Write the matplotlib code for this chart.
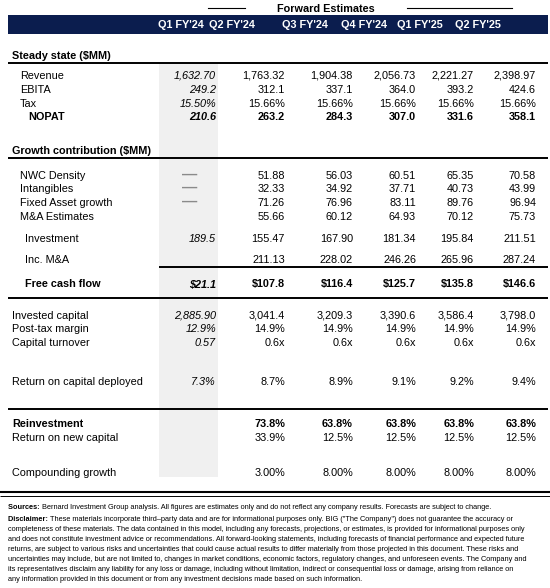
import matplotlib
matplotlib.use("Agg")
from matplotlib import pyplot as plt

plt.rcParams['font.family'] = ['Liberation Sans', 'DejaVu Sans']

# column headers
periods = ["Q1 FY'24", "Q2 FY'24", "Q3 FY'24", "Q4 FY'24", "Q1 FY'25", "Q2 FY'25"]

# steady state ($MM)
revenue = [1632.70, 1763.32, 1904.38, 2056.73, 2221.27, 2398.97]
ebita = [249.2, 312.1, 337.1, 364.0, 393.2, 424.6]
tax = [15.50, 15.66, 15.66, 15.66, 15.66, 15.66]
nopat = [210.6, 263.2, 284.3, 307.0, 331.6, 358.1]

# growth contribution ($MM)  (None = "—" or blank)
nwc_density = [None, 51.88, 56.03, 60.51, 65.35, 70.58]
intangibles = [None, 32.33, 34.92, 37.71, 40.73, 43.99]
fixed_asset = [None, 71.26, 76.96, 83.11, 89.76, 96.94]
mna_estimates = [None, 55.66, 60.12, 64.93, 70.12, 75.73]
investment = [189.5, 155.47, 167.90, 181.34, 195.84, 211.51]
inc_mna = [None, 211.13, 228.02, 246.26, 265.96, 287.24]
free_cash_flow = [21.1, 107.8, 116.4, 125.7, 135.8, 146.6]

# returns
invested_capital = [2885.90, 3041.4, 3209.3, 3390.6, 3586.4, 3798.0]
post_tax_margin = [12.9, 14.9, 14.9, 14.9, 14.9, 14.9]
capital_turnover = [0.57, 0.6, 0.6, 0.6, 0.6, 0.6]
rocd = [7.3, 8.7, 8.9, 9.1, 9.2, 9.4]
reinvestment = [None, 73.8, 63.8, 63.8, 63.8, 63.8]
return_new_capital = [None, 33.9, 12.5, 12.5, 12.5, 12.5]
compounding_growth = [None, 3.00, 8.00, 8.00, 8.00, 8.00]

NAVY = '#0b1d4e'
FS = 7.8

fig = plt.figure(figsize=(5.5, 5.88), dpi=100)
ax = fig.add_axes([0, 0, 1, 1])
ax.set_xlim(0, 550)
ax.set_ylim(588, 0)
ax.axis('off')

col_right = [216, 285, 353, 416, 474, 536]
head_center = [181, 232, 305, 364, 420, 478]

# shaded actuals column
ax.add_patch(plt.Rectangle((159, 63), 59, 414, color='#f0f0f0', lw=0, zorder=0))

# forward estimates bracket
ax.plot([208, 245], [8, 8], color='black', lw=0.8)
ax.plot([407, 512], [8, 8], color='black', lw=0.8)
ax.text(326, 8 + 3.8, 'Forward Estimates', ha='center', va='baseline',
        fontsize=FS, fontweight='bold')

# header bar
ax.add_patch(plt.Rectangle((8, 15), 540, 19, color=NAVY, lw=0, zorder=1))
for x, p in zip(head_center, periods):
    ax.text(x, 24.5 + 3.8, p, ha='center', va='baseline', fontsize=FS,
            fontweight='bold', color='white', zorder=2)


def hline(y, x0=8, x1=548, lw=1.4):
    ax.plot([x0, x1], [y, y], color='black', lw=lw, solid_capstyle='butt', zorder=3)


def label(y, s, x=20, bold=False):
    ax.text(x, y + 3.8, s, ha='left', va='baseline', fontsize=FS,
            fontweight='bold' if bold else 'normal')


def row(y, name, vals, fmt, fmt0=None, x=20, bold=False, dash=False):
    label(y, name, x, bold)
    for i, v in enumerate(vals):
        if v is None:
            if dash and i == 0:
                ax.text(189.5, y + 4.2, '\u2014', ha='center', va='baseline',
                        fontsize=11, fontweight='bold', color='#8a8a8a')
            continue
        f = fmt0 if (i == 0 and fmt0) else fmt
        ax.text(col_right[i], y + 3.8, f.format(v), ha='right', va='baseline',
                fontsize=FS, fontweight='bold' if bold else 'normal',
                fontstyle='italic' if i == 0 else 'normal')


# steady state
label(55, 'Steady state ($MM)', x=12, bold=True)
hline(63)
row(75, 'Revenue', revenue, '{:,.2f}')
row(89, 'EBITA', ebita, '{:,.1f}')
row(103, 'Tax', tax, '{:.2f}%')
row(116, 'NOPAT', nopat, '{:,.1f}', x=28, bold=True)

# growth contribution
label(150, 'Growth contribution ($MM)', x=12, bold=True)
hline(158)
row(175, 'NWC Density', nwc_density, '{:,.2f}', dash=True)
row(188, 'Intangibles', intangibles, '{:,.2f}', dash=True)
row(202, 'Fixed Asset growth', fixed_asset, '{:,.2f}', dash=True)
row(216, 'M&A Estimates', mna_estimates, '{:,.2f}')
row(238, 'Investment', investment, '{:,.2f}', fmt0='{:,.1f}', x=25)
row(259, 'Inc. M&A', inc_mna, '{:,.2f}', x=25)
hline(267, x0=159)
row(283, 'Free cash flow', free_cash_flow, '${:,.1f}', x=25, bold=True)
hline(298)

# returns
row(315, 'Invested capital', invested_capital, '{:,.1f}', fmt0='{:,.2f}', x=12)
row(328, 'Post-tax margin', post_tax_margin, '{:.1f}%', x=12)
row(342, 'Capital turnover', capital_turnover, '{:.1f}x', fmt0='{:.2f}', x=12)
row(381, 'Return on capital deployed', rocd, '{:.1f}%', x=12)
hline(409)
row(423, 'Reinvestment', reinvestment, '{:.1f}%', x=12, bold=True)
row(437, 'Return on new capital', return_new_capital, '{:.1f}%', x=12)
row(472, 'Compounding growth', compounding_growth, '{:.2f}%', x=12)

# footer
ax.plot([0, 550], [492, 492], color='black', lw=1.5, solid_capstyle='butt')
ax.plot([0, 550], [495.5, 495.5], color='black', lw=0.7, solid_capstyle='butt')

FFS = 5.35
footer_lines = [
    ("Sources: ", "Bernard Investment Group analysis. All figures are estimates only and do not reflect any company results. Forecasts are subject to change."),
    ("Disclaimer: ", "These materials incorporate third\u2013party data and are for informational purposes only. BIG (\"The Company\") does not guarantee the accuracy or"),
    ("", "completeness of these materials. The data contained in this model, including any forecasts, projections, or estimates, is provided for informational purposes only"),
    ("", "and does not constitute investment advice or recommendations. All forward-looking statements, including forecasts of financial performance and expected future"),
    ("", "returns, are subject to various risks and uncertainties that could cause actual results to differ materially from those projected in this document. These risks and"),
    ("", "uncertainties may include, but are not limited to, changes in market conditions, economic factors, regulatory changes, and unforeseen events. The Company and"),
    ("", "its representatives disclaim any liability for any loss or damage, including without limitation, indirect or consequential loss or damage, arising from reliance on"),
    ("", "any information provided in this document or from any investment decisions made based on such information."),
]
fy = [506, 518, 528, 538, 548, 558, 568, 578]
fig.canvas.draw()
renderer = fig.canvas.get_renderer()
for y, (head, body) in zip(fy, footer_lines):
    x = 8
    if head:
        t = ax.text(x, y + 2.6, head, ha='left', va='baseline', fontsize=FFS, fontweight='bold')
        bb = t.get_window_extent(renderer)
        x = x + bb.width * 550 / fig.bbox.width
    ax.text(x, y + 2.6, body, ha='left', va='baseline', fontsize=FFS)

fig.savefig('out.png', dpi=100)
